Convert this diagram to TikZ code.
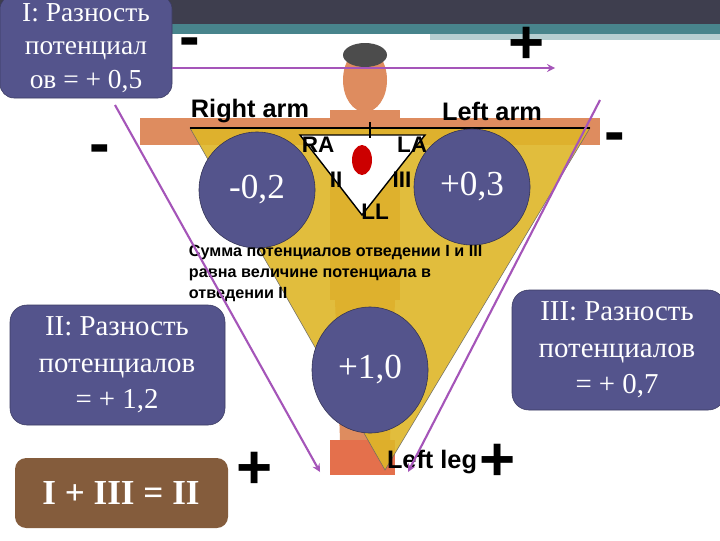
\documentclass[tikz,border=0pt]{standalone}
\usepackage{fontspec}
\usetikzlibrary{shapes.geometric}
\setmainfont{Liberation Serif}
\newfontfamily\sansf{Liberation Sans}
\begin{document}
\begin{tikzpicture}[x=0.025cm,y=-0.025cm]
\definecolor{boxblue}{RGB}{84,84,140}
\definecolor{brownbox}{RGB}{132,92,60}
\definecolor{purp}{RGB}{165,85,185}
\definecolor{gold}{RGB}{222,182,40}
\definecolor{skin}{RGB}{222,140,95}
\definecolor{darkbar}{RGB}{62,62,78}
\definecolor{teal}{RGB}{72,132,140}
\tikzset{
 bluecirc/.style={fill=boxblue,draw=boxblue!60!black,ellipse,inner sep=0pt,text=white,font=\fontsize{25}{28}\selectfont},
 boxtext/.style={text=white,align=center,font=\fontsize{20.5}{26}\selectfont},
 sign/.style={font=\sansf\bfseries\fontsize{44}{44}\selectfont},
 lab/.style={font=\sansf\bfseries\fontsize{16}{18}\selectfont},
 biglab/.style={font=\sansf\bfseries\fontsize{18}{20}\selectfont},
 parr/.style={draw=purp,line width=1.5pt,-stealth}
}
\useasboundingbox (0,0) rectangle (720,540);
\fill[white] (0,0) rectangle (720,540);
% top bars
\fill[darkbar] (0,0) rectangle (720,24);
\fill[teal] (160,24) rectangle (720,34);
\fill[teal!40] (430,34) rectangle (720,40);
% body (simplified)
\fill[skin] (140,118) -- (600,118) -- (600,145) -- (140,145) -- cycle;
\fill[skin] (330,110) rectangle (400,300);
\fill[skin] (335,300) -- (395,300) -- (390,440) -- (340,440) -- cycle;
\fill[skin!80!red] (330,440) rectangle (395,475);
\fill[skin] (365,80) ellipse (22 and 32);
\fill[black!70] (365,55) ellipse (22 and 12);
% yellow triangle
\fill[gold,opacity=0.9,draw=black!60] (190,128) -- (590,128) -- (385,470) -- cycle;
% inner triangle
\draw[fill=white,line width=1pt] (300,135) -- (425,135) -- (362,215) -- cycle;
\draw[line width=1.2pt] (190,128) -- (590,128);
\draw[line width=1pt] (370,122) -- (370,138);
\fill[red!80!black] (362,160) ellipse (10 and 15);
\node[lab] (ra) at (318,145) {RA};
\node[lab] (la) at (412,145) {LA};
\node[lab] (ii) at (336,180) {II};
\node[lab] (iii) at (402,180) {III};
\node[lab] (ll) at (375,212) {LL};
\node[biglab] (rarm) at (250,111) {Right arm};
\node[biglab] (larm) at (492,111) {Left arm};
\node[biglab] (lleg) at (432,462) {Left leg};
% circles
\node[bluecirc,minimum width=2.9cm,minimum height=2.9cm] (n1) at (257,190) {-0,2};
\node[bluecirc,minimum width=2.9cm,minimum height=2.9cm] (n2) at (472,187) {+0,3};
\node[bluecirc,minimum width=2.9cm,minimum height=3.15cm] (n3) at (370,370) {+1,0};
% sum text
\node[font=\sansf\bfseries\fontsize{11.5}{15}\selectfont,align=left,anchor=north west] (sum) at (184,240) {Сумма потенциалов отведении I и III\\равна величине потенциала в\\отведении II};
% boxes
\fill[boxblue,draw=boxblue!70!black,rounded corners=10pt] (0,-5) rectangle (172,98);
\node[boxtext,font=\fontsize{19.5}{24}\selectfont] (b1) at (86,48) {I: Разность\\потенциал\\ов = + 0,5};
\fill[boxblue,draw=boxblue!70!black,rounded corners=12pt] (10,305) rectangle (225,425);
\node[boxtext] (b2) at (117,365) {II: Разность\\потенциалов\\= + 1,2};
\fill[boxblue,draw=boxblue!70!black,rounded corners=12pt] (512,290) rectangle (725,410);
\node[boxtext] (b3) at (617,350) {III: Разность\\потенциалов\\= + 0,7};
\fill[brownbox,rounded corners=8pt] (15,458) rectangle (228,528);
\node[text=white,font=\bfseries\fontsize{25}{28}\selectfont] (b4) at (121,493) {I + III = II};
% arrows
\coordinate (a1s) at (172,68); \coordinate (a1e) at (555,68);
\coordinate (a2s) at (115,105); \coordinate (a2e) at (320,472);
\coordinate (a3s) at (600,100); \coordinate (a3e) at (408,472);
\draw[parr] (a1s) -- (a1e);
\draw[parr] (a2s) -- (a2e);
\draw[parr] (a3s) -- (a3e);
% signs
\node[sign] (s1) at (190,48) {-};
\node[sign] (s2) at (527,45) {+};
\node[sign] (s3) at (100,155) {-};
\node[sign] (s4) at (615,143) {-};
\node[sign] (s5) at (255,470) {+};
\node[sign] (s6) at (498,462) {+};
\end{tikzpicture}
\end{document}
